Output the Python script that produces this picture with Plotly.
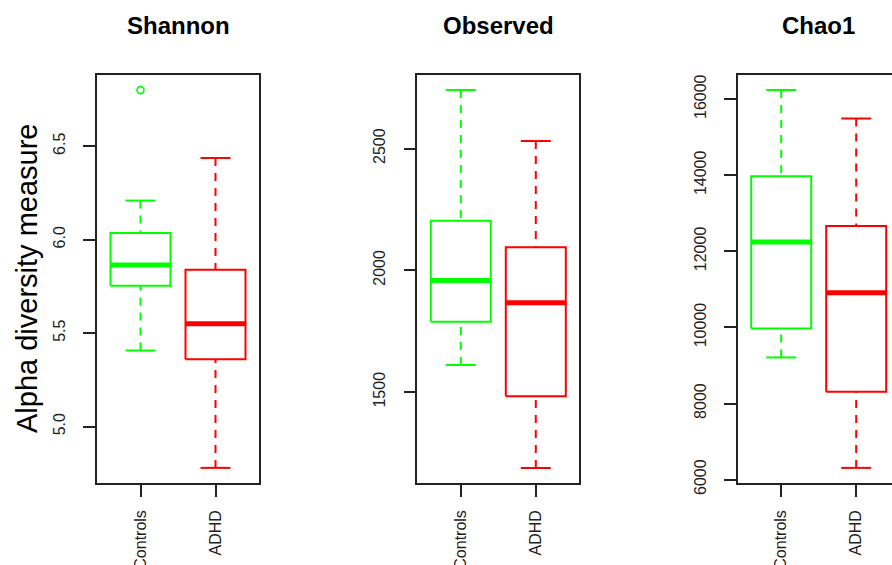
import plotly.graph_objects as go

# ---------------- data ----------------
groups = ["Controls", "ADHD"]
colors = ["#00FF00", "#FF0000"]
metrics = ["Shannon", "Observed", "Chao1"]

# five-number summaries per metric: [lower whisker, Q1, median, Q3, upper whisker]
shannon_controls = [5.407, 5.754, 5.864, 6.035, 6.209]
shannon_adhd = [4.779, 5.360, 5.550, 5.839, 6.437]
observed_controls = [1611, 1789, 1958, 2204, 2740]
observed_adhd = [1189, 1483, 1867, 2095, 2531]
chao1_controls = [9211, 9974, 12246, 13975, 16238]
chao1_adhd = [6308, 8308, 10914, 12667, 15494]

# outliers
shannon_outliers_controls = [6.80]
shannon_outliers_adhd = []
observed_outliers_controls = []
observed_outliers_adhd = []
chao1_outliers_controls = []
chao1_outliers_adhd = []

summaries = {
    "Shannon": [shannon_controls, shannon_adhd],
    "Observed": [observed_controls, observed_adhd],
    "Chao1": [chao1_controls, chao1_adhd],
}
outliers = {
    "Shannon": [shannon_outliers_controls, shannon_outliers_adhd],
    "Observed": [observed_outliers_controls, observed_outliers_adhd],
    "Chao1": [chao1_outliers_controls, chao1_outliers_adhd],
}
ytick_dtick = {"Shannon": 0.5, "Observed": 500, "Chao1": 2000}
ytick_format = {"Shannon": ".1f", "Observed": "d", "Chao1": "d"}
ylabel = "Alpha diversity measure"

# ---------------- layout geometry ----------------
W, H = 892, 565
top, bottom = 75, 82
panel_left_px = [97, 417.3, 737.7]
panel_width_px = 162
xr = [0.42, 2.58]
px_per_unit = panel_width_px / (xr[1] - xr[0])
BOXW = 0.4
STAPLE = 0.2
FONT = "Liberation Sans, Arial, sans-serif"

fig = go.Figure()

for i, m in enumerate(metrics):
    ax = "" if i == 0 else str(i + 1)
    xa, ya = "x" + ax, "y" + ax
    allv = []
    for g, (s, col) in enumerate(zip(summaries[m], colors)):
        pos = g + 1
        lo, q1, med, q3, hi = s
        allv += s + outliers[m][g]
        common = dict(xaxis=xa, yaxis=ya, showlegend=False, hoverinfo="skip", mode="lines")
        # whiskers (dashed, from whisker end to box)
        for a, b in [(lo, q1), (hi, q3)]:
            fig.add_trace(go.Scatter(x=[pos, pos], y=[a, b],
                                     line=dict(color=col, width=2, dash="8px,7px"), **common))
        # staples
        for v in [lo, hi]:
            fig.add_trace(go.Scatter(x=[pos - STAPLE, pos + STAPLE], y=[v, v],
                                     line=dict(color=col, width=2), **common))
        # box
        fig.add_trace(go.Scatter(x=[pos - BOXW, pos + BOXW, pos + BOXW, pos - BOXW, pos - BOXW],
                                 y=[q1, q1, q3, q3, q1], fill="toself", fillcolor="white",
                                 line=dict(color=col, width=2), **common))
        # median
        fig.add_trace(go.Scatter(x=[pos - BOXW, pos + BOXW], y=[med, med],
                                 line=dict(color=col, width=5), **common))
        # outliers
        if outliers[m][g]:
            fig.add_trace(go.Scatter(x=[pos] * len(outliers[m][g]), y=outliers[m][g],
                                     mode="markers", xaxis=xa, yaxis=ya, showlegend=False,
                                     hoverinfo="skip",
                                     marker=dict(symbol="circle-open", size=7, color=col,
                                                 line=dict(width=1.6, color=col))))
    vmin, vmax = min(allv), max(allv)
    pad = (vmax - vmin) * 0.04
    yrange = [vmin - pad, vmax + pad]

    left = panel_left_px[i]
    right = min(left + panel_width_px, W)
    this_xr = [xr[0], xr[0] + (right - left) / px_per_unit]
    full = right - left >= panel_width_px - 0.5

    fig.layout["xaxis" + ax] = dict(
        domain=[left / W, right / W], range=this_xr, anchor=ya, automargin=False,
        tickmode="array", tickvals=[1, 2], ticktext=groups, tickangle=-90,
        ticks="outside", ticklen=12, tickwidth=1.5, tickcolor="#222",
        showline=True, mirror=True, linecolor="#222", linewidth=1.5,
        showgrid=False, zeroline=False, ticklabelstandoff=7,
        tickfont=dict(family=FONT, size=16, color="#222"),
    )
    fig.layout["yaxis" + ax] = dict(
        domain=[0, 1], range=yrange, anchor=xa, automargin=False,
        dtick=ytick_dtick[m], tickformat=ytick_format[m], tickangle=-90,
        ticks="outside", ticklen=12, tickwidth=1.5, tickcolor="#222",
        showline=True, mirror=full, linecolor="#222", linewidth=1.5,
        showgrid=False, zeroline=False, ticklabelstandoff=12,
        tickfont=dict(family=FONT, size=16, color="#222"),
    )
    # panel title
    fig.add_annotation(text="<b>" + m + "</b>", xref=xa, yref="paper", x=1.5,
                       y=(H - bottom - 25) / (H - top - bottom), yanchor="middle",
                       showarrow=False, font=dict(family=FONT, size=24, color="black"))

fig.add_annotation(text=ylabel, xref="paper", yref="paper", x=27 / W, y=0.5,
                   textangle=-90, showarrow=False, xanchor="center", yanchor="middle",
                   font=dict(family=FONT, size=29, color="black"))

fig.update_layout(width=W, height=H,
                  margin=dict(l=0, r=0, t=top, b=bottom, pad=0, autoexpand=False),
                  paper_bgcolor="white", plot_bgcolor="white")

fig.write_html("out.html", config={"displayModeBar": False},
               post_script="document.body.style.margin='0';document.body.style.overflow='hidden';")
